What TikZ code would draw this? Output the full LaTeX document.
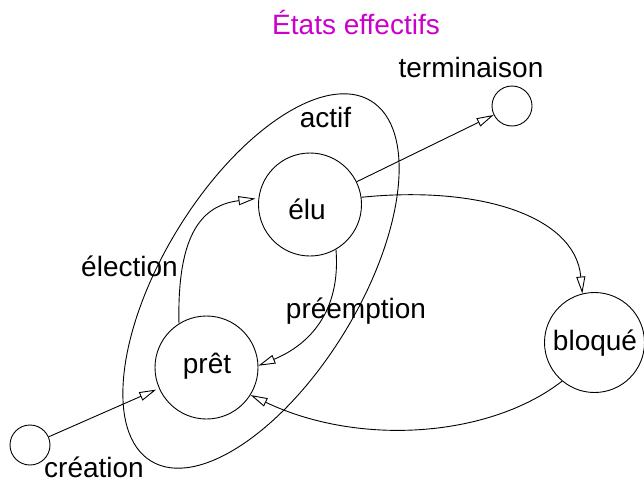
\documentclass[tikz,border=0pt]{standalone}
\usepackage{fontspec}
\setmainfont{Liberation Sans}
\usetikzlibrary{arrows.meta}
\definecolor{titlemag}{RGB}{204,0,204}
\begin{document}
\begin{tikzpicture}[x=1pt,y=-1pt,
  line width=0.9pt,
  state/.style={draw,circle,inner sep=0pt},
  lbl/.style={anchor=base,inner sep=0pt,font=\fontsize{28}{33}\selectfont},
  arr/.style={-{Triangle[open,length=17pt,width=9pt]}}]
\useasboundingbox (0,0) rectangle (644,482);
% ellipse "actif"
\draw[rotate around={58.6:(261,281)}] (261,281) ellipse [x radius=211pt, y radius=98pt];
% states
\node[state,minimum size=103pt] (elu) at (310,204.5) {};
\node[state,minimum size=103pt] (pret) at (206.5,367.5) {};
\node[state,minimum size=100pt] (bloque) at (594.5,342.5) {};
\node[state,minimum size=40pt] (term) at (512,106) {};
\node[state,minimum size=40pt] (creat) at (30,445) {};
% labels
\node[lbl,text=titlemag] (title) at (356,34) {États effectifs};
\node[lbl] (tterm) at (471,77) {terminaison};
\node[lbl] (tactif) at (325.5,127) {actif};
\node[lbl] (telu) at (307,219) {élu};
\node[lbl] (telec) at (129.5,276) {élection};
\node[lbl] (tpree) at (356,318) {préemption};
\node[lbl] (tpret) at (207,373) {prêt};
\node[lbl] (tbloq) at (595,350) {bloqué};
\node[lbl] (tcreat) at (94,477) {création};
% transitions
\draw[arr,shorten >=3pt] (creat) -- (pret);
\draw[arr] (elu) -- (term);
\draw[arr,shorten >=3pt] (pret.122) .. controls +(-2,-92) and +(-55,7) .. (elu.173);
\draw[arr] (elu.-60) .. controls +(5,62) and +(51,-21) .. (pret.2);
\draw[arr] (elu.8) .. controls +(117,-12) and +(-7,-78) .. (bloque.104);
\draw[arr] (bloque.230.5) .. controls +(-72,56) and +(109,52) .. (pret.-32.6);
\end{tikzpicture}
\end{document}
